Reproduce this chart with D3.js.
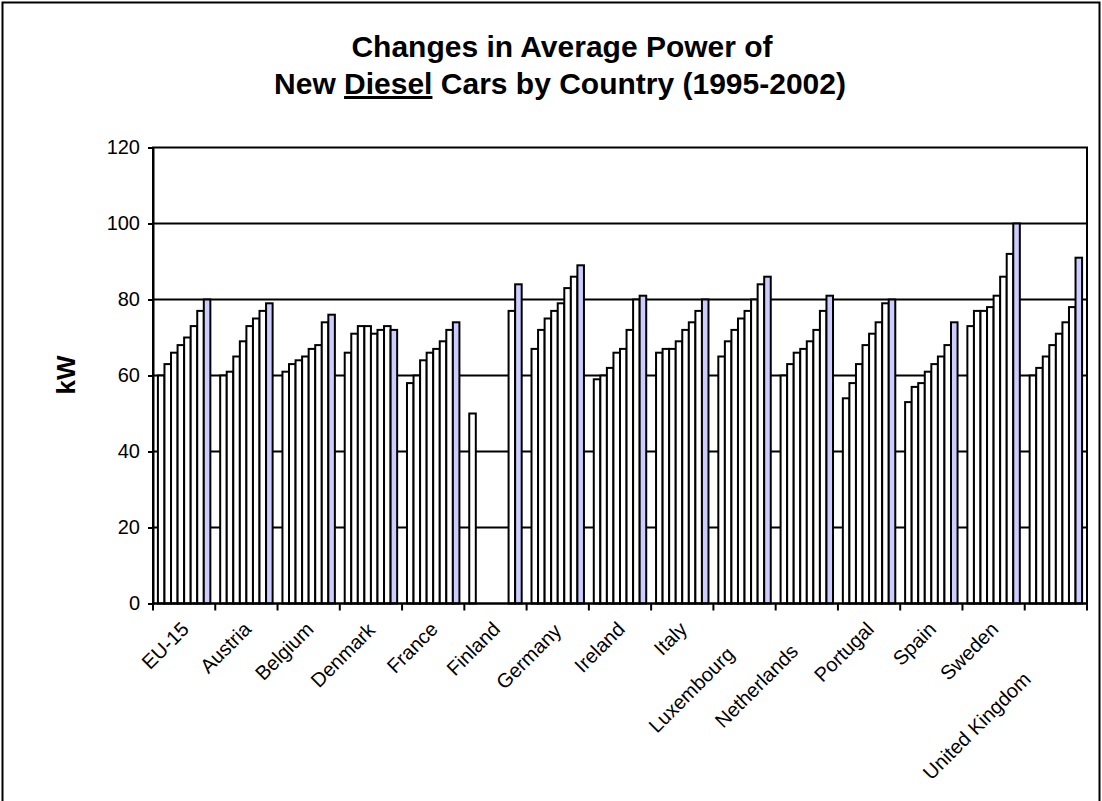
<!DOCTYPE html>
<html>
<head>
<meta charset="utf-8">
<script src="https://cdn.jsdelivr.net/npm/d3@7"></script>
<style>
  html, body { margin: 0; padding: 0; background: #ffffff; }
  svg { display: block; }
  text { font-family: "Liberation Sans", Arial, sans-serif; fill: #000; }
</style>
</head>
<body>
<svg id="chart" width="1102" height="801"></svg>
<script>
// ---- data ----
const countries = ["EU-15", "Austria", "Belgium", "Denmark", "France", "Finland", "Germany",
  "Ireland", "Italy", "Luxembourg", "Netherlands", "Portugal", "Spain", "Sweden", "United Kingdom"];
const years = ["1995", "1996", "1997", "1998", "1999", "2000", "2001", "2002"];
const y1995 = [60, 60, 61, 66, 58, 50, 67, 59, 66, 65, 60, 54, 53, 73, 60];
const y1996 = [63, 61, 63, 71, 60, null, 72, 60, 67, 69, 63, 58, 57, 77, 62];
const y1997 = [66, 65, 64, 73, 64, null, 75, 62, 67, 72, 66, 63, 58, 77, 65];
const y1998 = [68, 69, 65, 73, 66, null, 77, 66, 69, 75, 67, 68, 61, 78, 68];
const y1999 = [70, 73, 67, 71, 67, null, 79, 67, 72, 77, 69, 71, 63, 81, 71];
const y2000 = [73, 75, 68, 72, 69, null, 83, 72, 74, 80, 72, 74, 65, 86, 74];
const y2001 = [77, 77, 74, 73, 72, 77, 86, 80, 77, 84, 77, 79, 68, 92, 78];
const y2002 = [80, 79, 76, 72, 74, 84, 89, 81, 80, 86, 81, 80, 74, 100, 91];
const yTicks = [0, 20, 40, 60, 80, 100, 120];
const titleLine1 = "Changes in Average Power of";
const titleLine2 = ["New ", "Diesel", " Cars by Country (1995-2002)"];
const yLabel = "kW";

const series = [y1995, y1996, y1997, y1998, y1999, y2000, y2001, y2002];

// ---- layout ----
const svg = d3.select("#chart");
const pLeft = 153, pRight = 1087, pTop = 147.5, pBottom = 603.5;

svg.append("rect").attr("x", 2.5).attr("y", 2.5).attr("width", 1097).attr("height", 805)
  .attr("fill", "#fff").attr("stroke", "#000").attr("stroke-width", 2);

const x = d3.scaleBand().domain(countries).range([pLeft, pRight]).paddingInner(0).paddingOuter(0);
const xs = d3.scaleBand().domain(years).range([0, x.bandwidth()]).paddingInner(0).paddingOuter(0.75);
const y = d3.scaleLinear().domain([0, 120]).range([pBottom, pTop]);

// gridlines
svg.append("g").selectAll("line").data(yTicks.filter(t => t > 0 && t < 120)).join("line")
  .attr("x1", pLeft).attr("x2", pRight)
  .attr("y1", d => y(d)).attr("y2", d => y(d))
  .attr("stroke", "#000").attr("stroke-width", 2);

// bars
const barData = [];
countries.forEach((c, ci) => {
  years.forEach((yr, yi) => {
    const v = series[yi][ci];
    if (v !== null && v !== undefined) barData.push({ c, yr, yi, v });
  });
});
svg.append("g").selectAll("rect").data(barData).join("rect")
  .attr("x", d => x(d.c) + xs(d.yr))
  .attr("y", d => y(d.v))
  .attr("width", xs.bandwidth())
  .attr("height", d => y(0) - y(d.v))
  .attr("fill", d => d.yi === years.length - 1 ? "#ccccff" : "#ffffff")
  .attr("stroke", "#000").attr("stroke-width", 2);

// plot border (top & right)
svg.append("rect").attr("x", pLeft).attr("y", pTop).attr("width", pRight - pLeft).attr("height", pBottom - pTop)
  .attr("fill", "none").attr("stroke", "#000").attr("stroke-width", 2);

// y axis
const yAxis = svg.append("g").attr("transform", `translate(${pLeft},0)`)
  .call(d3.axisLeft(y).tickValues(yTicks).tickSize(5).tickPadding(8));
yAxis.select(".domain").attr("stroke", "#000").attr("stroke-width", 2);
yAxis.selectAll(".tick line").attr("stroke", "#000").attr("stroke-width", 2);
yAxis.selectAll(".tick text").style("font-size", "20px").style("font-family", "Liberation Sans, Arial, sans-serif");

// x axis: ticks at category boundaries
const xAxisG = svg.append("g");
xAxisG.append("line").attr("x1", pLeft).attr("x2", pRight).attr("y1", pBottom).attr("y2", pBottom)
  .attr("stroke", "#000").attr("stroke-width", 2);
const bounds = countries.map(c => x(c)).concat([pRight]);
xAxisG.selectAll("line.tk").data(bounds).join("line").attr("class", "tk")
  .attr("x1", d => d).attr("x2", d => d).attr("y1", pBottom).attr("y2", pBottom + 7)
  .attr("stroke", "#000").attr("stroke-width", 2);

const labels = xAxisG.selectAll("text.xl").data(countries).join("text").attr("class", "xl")
  .style("font-size", "20px")
  .attr("text-anchor", "end")
  .text(d => d);
labels.each(function (d) {
  const L = this.getComputedTextLength();
  const dy = Math.max(0, L - 80) * 0.8;
  const dx = -0.6 * dy;
  const ex = x(d) + x.bandwidth() / 2 + dx + 6;
  const ey = pBottom + 27 + dy;
  d3.select(this).attr("transform", `translate(${ex},${ey}) rotate(-45)`);
});

// y label
svg.append("text").attr("transform", "translate(75,375) rotate(-90)")
  .attr("text-anchor", "middle").style("font-size", "26px").style("font-weight", "bold")
  .text(yLabel);

// title
const title = svg.append("text").attr("text-anchor", "middle").style("font-size", "30px").style("font-weight", "bold");
title.append("tspan").attr("x", 562).attr("y", 57).text(titleLine1);
const l2 = title.append("tspan").attr("x", 560).attr("y", 94);
l2.append("tspan").text(titleLine2[0]);
l2.append("tspan").style("text-decoration", "underline").text(titleLine2[1]);
l2.append("tspan").text(titleLine2[2]);
</script>
</body>
</html>
